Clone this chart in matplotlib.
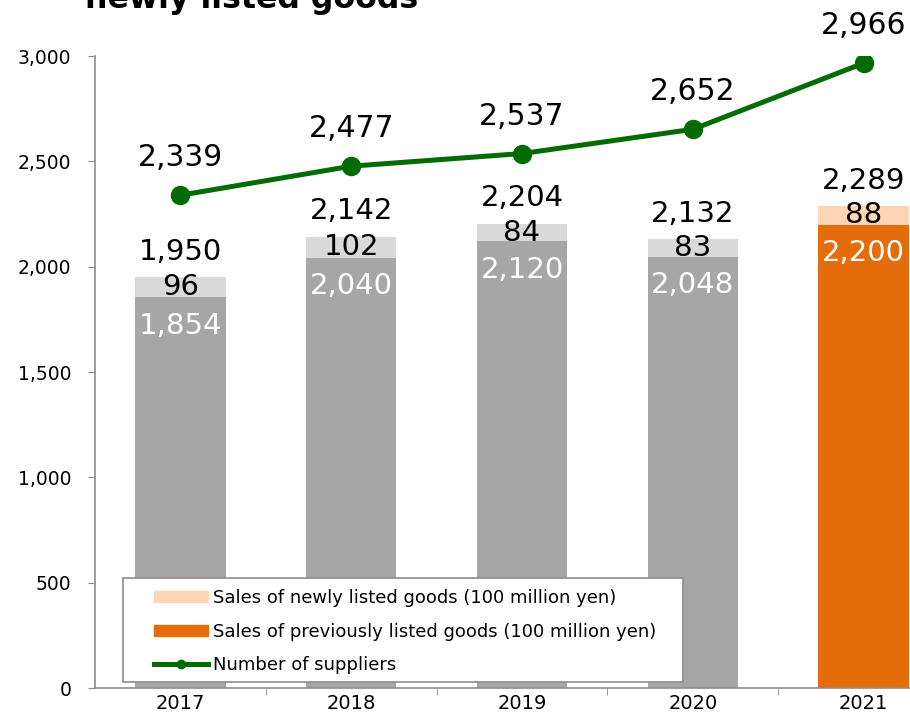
import matplotlib.pyplot as plt
from matplotlib.patches import Patch, Rectangle
from matplotlib.lines import Line2D
import numpy as np

# ---- data ----
years     = ['2017', '2018', '2019', '2020', '2021']
prev_sale = [1854, 2040, 2120, 2048, 2200]
new_sale  = [96, 102, 84, 83, 88]
total     = [1950, 2142, 2204, 2132, 2289]
suppliers = [2339, 2477, 2537, 2652, 2966]

# ---- style ----
GRAY_BASE = '#a6a6a6'
GRAY_TOP  = '#d9d9d9'
ORG_BASE  = '#e46c0a'
ORG_TOP   = '#fcd5b5'
GREEN     = '#036b03'
AXIS_COL  = '#8c8c8c'

plt.rcParams['font.family'] = ['DejaVu Sans']

AX_W, AX_H = 854, 632   # axes size in pixels
fig = plt.figure(figsize=(9.1, 7.15), dpi=100)
ax = fig.add_axes([95 / 910, 27 / 715, AX_W / 910, AX_H / 715])

x = np.arange(len(years))
base_cols = [GRAY_BASE] * 4 + [ORG_BASE]
top_cols  = [GRAY_TOP] * 4 + [ORG_TOP]
w = 0.53

ax.bar(x, prev_sale, w, color=base_cols, zorder=2)
ax.bar(x, new_sale, w, bottom=prev_sale, color=top_cols, zorder=2)
ax.plot(x, suppliers, color=GREEN, lw=3.6, marker='o', ms=13, zorder=4)

# value labels: total above, new-goods in the light segment, base inside the bar
for i in range(len(years)):
    ax.text(x[i], total[i] + 120, f'{total[i]:,}', ha='center', va='center',
            fontsize=21, color='black', zorder=5)
    ax.text(x[i], prev_sale[i] + new_sale[i] / 2, f'{new_sale[i]:,}',
            ha='center', va='center', fontsize=21, color='black', zorder=5)
    ax.text(x[i], prev_sale[i] - 134, f'{prev_sale[i]:,}', ha='center',
            va='center', fontsize=21, color='white', zorder=5)
    ax.text(x[i], suppliers[i] + 178, f'{suppliers[i]:,}', ha='center',
            va='center', fontsize=21.5, color='black', zorder=5, clip_on=False)

ax.set_xlim(-0.5, 4.5)
ax.set_ylim(0, 3000)
ax.set_yticks(range(0, 3001, 500))
ax.set_yticklabels([f'{v:,}' for v in range(0, 3001, 500)])
ax.set_xticks(x)
ax.set_xticklabels(years)
ax.set_xticks(np.arange(0.5, 4.5, 1), minor=True)
ax.tick_params(axis='x', which='major', length=0, labelsize=14, pad=4)
ax.tick_params(axis='x', which='minor', length=5, color=AXIS_COL, direction='out')
ax.tick_params(axis='y', length=5, color=AXIS_COL, labelsize=13.5, pad=12)

for s in ['top', 'right']:
    ax.spines[s].set_visible(False)
for s in ['left', 'bottom']:
    ax.spines[s].set_color(AXIS_COL)
    ax.spines[s].set_linewidth(1.2)

# legend box drawn by hand so the entries can sit inset from the frame
ax.add_patch(Rectangle((28 / AX_W, 6 / AX_H), 560 / AX_W, 104 / AX_H,
                       transform=ax.transAxes, facecolor='white',
                       edgecolor=AXIS_COL, lw=1.2, zorder=6))

handles = [
    Patch(color=ORG_TOP),
    Patch(color=ORG_BASE),
    Line2D([], [], color=GREEN, lw=3.6, marker='o', ms=6),
]
labels = [
    'Sales of newly listed goods (100 million yen)',
    'Sales of previously listed goods (100 million yen)',
    'Number of suppliers',
]
leg = ax.legend(handles, labels, loc='lower left',
                bbox_to_anchor=(50 / AX_W, 5 / AX_H), fontsize=13,
                frameon=False, handlelength=3.0, handleheight=0.55,
                handletextpad=0.25, labelspacing=0.85, borderpad=0.5,
                borderaxespad=0)
leg.set_zorder(7)

fig.text(85 / 910, 1 - 8 / 715, 'newly listed goods', fontsize=22.8,
         fontweight='bold', va='baseline', ha='left')

fig.savefig('out.png', dpi=100)
